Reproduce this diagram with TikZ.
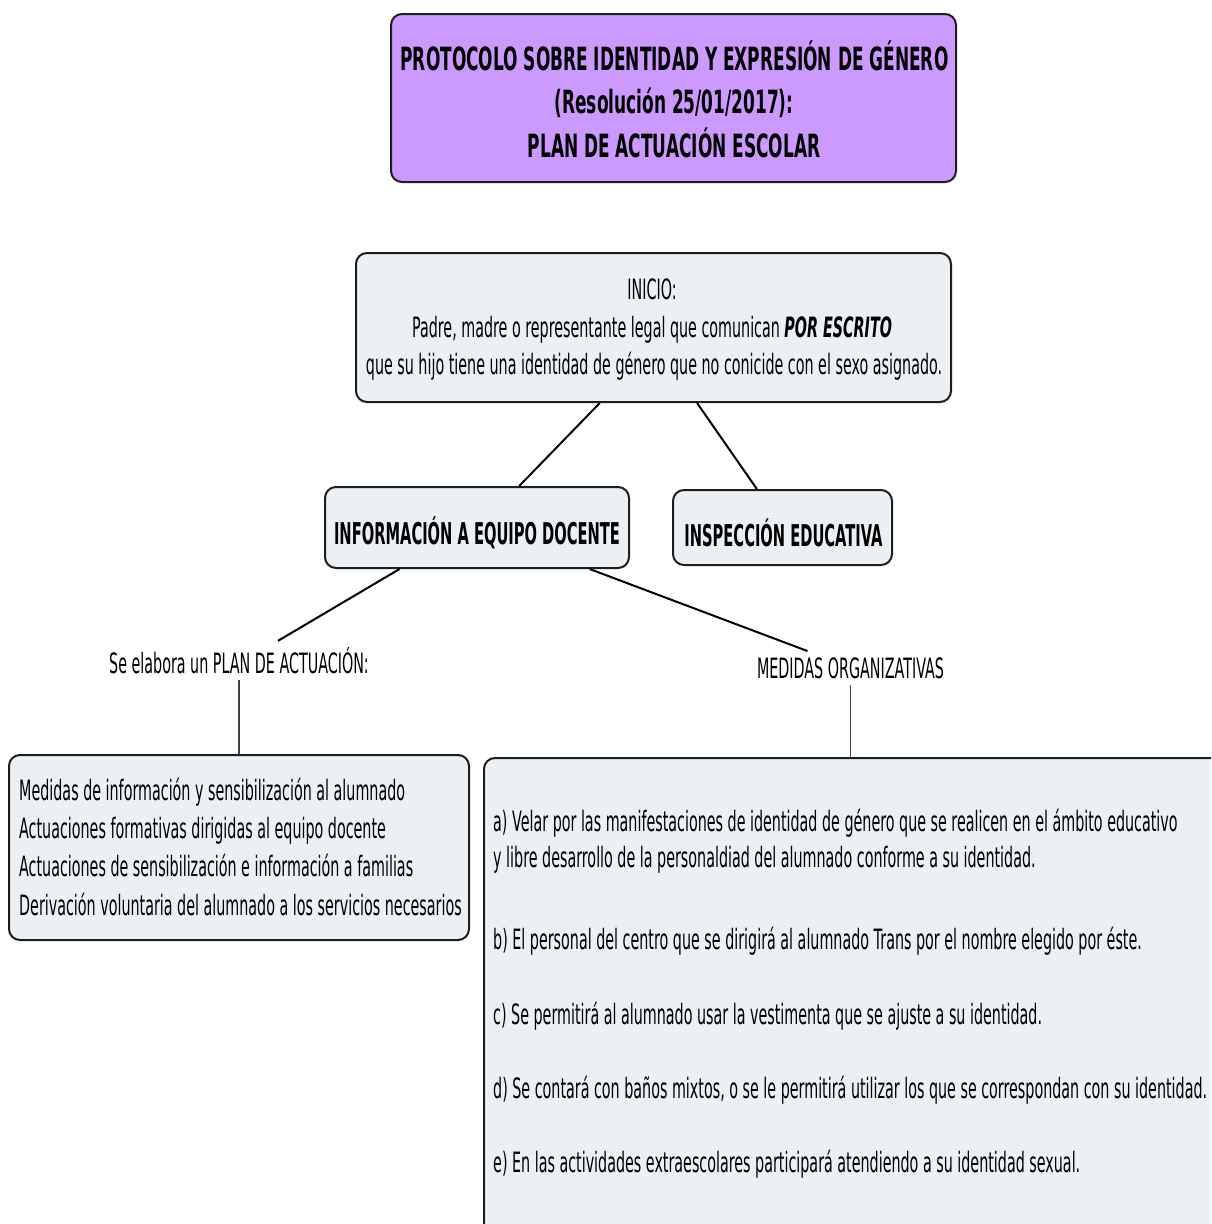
\documentclass[tikz,border=0pt]{standalone}
\usepackage{fontspec}
\setmainfont{DejaVu Sans}[FakeStretch=0.511]
\newfontfamily\headfont{DejaVu Sans}[FakeStretch=0.489]
\newfontfamily\titlefont{DejaVu Sans}[FakeStretch=0.53]
\usetikzlibrary{calc}
\definecolor{titlefill}{RGB}{204,153,255}
\definecolor{boxfill}{RGB}{234,240,244}
\definecolor{edge}{RGB}{30,30,30}
\begin{document}
\begin{tikzpicture}[x=1pt,y=-1pt,
  box/.style={draw=edge,line width=2pt,rounded corners=11pt,fill=boxfill,inner sep=0pt},
  conn/.style={line width=2pt,draw=black},
  thinline/.style={line width=1.2pt,draw=black!75},
  body/.style={inner sep=0pt,anchor=base,font=\fontsize{28}{32}\selectfont},
  bodyw/.style={body,anchor=base west},
  head/.style={inner sep=0pt,anchor=base,font=\headfont\fontsize{30}{34}\selectfont\bfseries},
  ttl/.style={inner sep=0pt,anchor=base,font=\titlefont\fontsize{32}{36}\selectfont\bfseries},
  lab/.style={body,inner xsep=0pt,inner ysep=6pt},
]
\useasboundingbox (0,0) rectangle (1211,1224);
\clip (0,0) rectangle (1211,1224);

% boxes
\node[box,fill=titlefill,minimum width=565pt,minimum height=168pt] (title) at (673.5,98) {};
\node[box,minimum width=595pt,minimum height=149pt] (inicio) at (653.5,327.5) {};
\node[box,minimum width=304pt,minimum height=81pt] (info) at (477,527.5) {};
\node[box,minimum width=219pt,minimum height=75pt] (insp) at (782.5,527.5) {};
\node[box,minimum width=460pt,minimum height=185pt] (left) at (239,847.5) {};
\node[box,minimum width=760pt,minimum height=500pt] (right) at (864,1008) {};

% title text
\node[ttl] (t1) at (674.5,70) {PROTOCOLO SOBRE IDENTIDAD Y EXPRESIÓN DE GÉNERO};
\node[ttl] (t2) at (674,113) {(Resolución 25/01/2017):};
\node[ttl] (t3) at (674,157) {PLAN DE ACTUACIÓN ESCOLAR};

% inicio text
\node[body] (i1) at (652,299) {INICIO:};
\node[body] (i2) at (652,337) {Padre, madre o representante legal que comunican \textbf{\textit{POR ESCRITO}}};
\node[body] (i3) at (654,374) {que su hijo tiene una identidad de género que no conicide con el sexo asignado.};

\node[head] (infot) at (477,544) {INFORMACIÓN A EQUIPO DOCENTE};
\node[head] (inspt) at (783.5,546) {INSPECCIÓN EDUCATIVA};

% labels
\node[lab] (lab1) at (239,673) {Se elabora un PLAN DE ACTUACIÓN:};
\node[lab] (lab2) at (850.5,678) {MEDIDAS ORGANIZATIVAS};

% left box text
\node[bodyw] (l1) at (19,800) {Medidas de información y sensibilización al alumnado};
\node[bodyw] (l2) at (19,838) {Actuaciones formativas dirigidas al equipo docente};
\node[bodyw] (l3) at (19,876) {Actuaciones de sensibilización e información a familias};
\node[bodyw] (l4) at (19,915) {Derivación voluntaria del alumnado a los servicios necesarios};

% right box text
\node[bodyw] (ra1) at (493,831) {a) Velar por las manifestaciones de identidad de género que se realicen en el ámbito educativo};
\node[bodyw] (ra2) at (493,867) {y libre desarrollo de la personaldiad del alumnado conforme a su identidad.};
\node[bodyw] (rb) at (493,949) {b) El personal del centro que se dirigirá al alumnado Trans por el nombre elegido por éste.};
\node[bodyw] (rc) at (493,1024) {c) Se permitirá al alumnado usar la vestimenta que se ajuste a su identidad.};
\node[bodyw] (rd) at (493,1098) {d) Se contará con baños mixtos, o se le permitirá utilizar los que se correspondan con su identidad.};
\node[bodyw] (re) at (493,1172) {e) En las actividades extraescolares participará atendiendo a su identidad sexual.};

% connectors
\draw[conn] ($(inicio.south west)!0.41!(inicio.south east)$) -- ($(info.north west)!0.638!(info.north east)$);
\draw[conn] ($(inicio.south west)!0.573!(inicio.south east)$) -- ($(insp.north west)!0.384!(insp.north east)$);
\draw[conn] ($(info.south west)!0.247!(info.south east)$) -- ($(lab1.north west)!0.65!(lab1.north east)$);
\draw[conn] ($(info.south west)!0.868!(info.south east)$) -- ($(lab2.north west)!0.27!(lab2.north east)$);
\draw[thinline] (lab1.south) -- (left.north);
\draw[thinline] (lab2.south) -- (lab2.south |- right.north);
\end{tikzpicture}
\end{document}
